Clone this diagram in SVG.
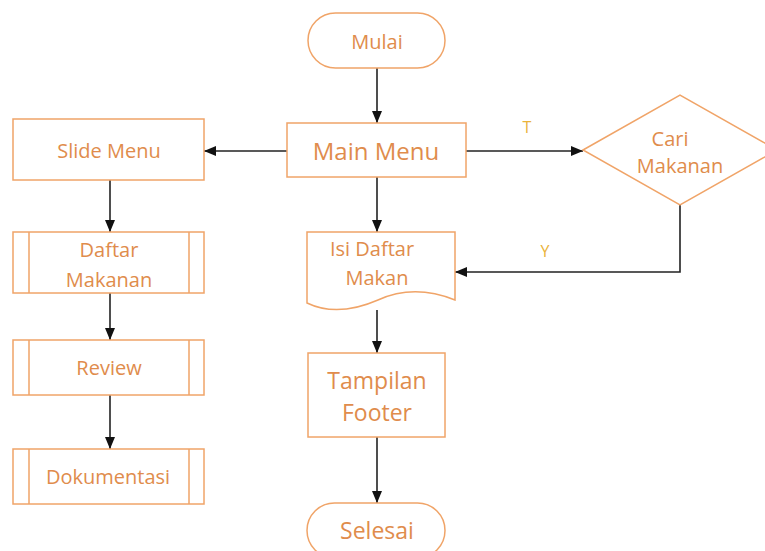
<svg xmlns="http://www.w3.org/2000/svg" width="765" height="551" viewBox="0 0 765 551">
<defs>
<marker id="ah" markerWidth="12" markerHeight="10" refX="12" refY="5" orient="auto" markerUnits="userSpaceOnUse">
<path d="M0,0 L12,5 L0,10 Z" fill="#111"/>
</marker>
<style>
.shape{fill:#fff;stroke:#f0a468;stroke-width:1.5}
.in{fill:none;stroke:#f0a468;stroke-width:1.5}
.t{font-family:"Open Sans","Liberation Sans",sans-serif;fill:#e08c4c;text-anchor:middle;dominant-baseline:central}
.lbl{font-family:"Open Sans","Liberation Sans",sans-serif;fill:#eab33a;text-anchor:middle;dominant-baseline:central;font-size:16px}
.c{fill:none;stroke:#222;stroke-width:1.6;marker-end:url(#ah)}
</style>
</defs>
<rect width="765" height="551" fill="#fff"/>
<g id="connectors">
<path class="c" d="M377,68 V123"/>
<path class="c" d="M287,151 H204"/>
<path class="c" d="M466,151 H583"/>
<path class="c" d="M377,177 V232"/>
<path class="c" d="M110,180 V232"/>
<path class="c" d="M110,293 V340"/>
<path class="c" d="M110,395 V449"/>
<path class="c" d="M680,205 V272 H455"/>
<path class="c" d="M377,310 V353"/>
<path class="c" d="M377,437 V503"/>
<text class="lbl" x="527" y="127">T</text>
<text class="lbl" x="545" y="251">Y</text>
</g>
<g id="mulai">
<rect class="shape" x="308" y="13" width="137" height="55" rx="27.5"/>
<text class="t" x="377" y="41" font-size="20">Mulai</text>
</g>
<g id="main-menu">
<rect class="shape" x="287" y="123" width="179" height="54"/>
<text class="t" x="376" y="150" font-size="24">Main Menu</text>
</g>
<g id="slide-menu">
<rect class="shape" x="13" y="119" width="191" height="61"/>
<text class="t" x="109" y="150" font-size="20">Slide Menu</text>
</g>
<g id="daftar-makanan">
<rect class="shape" x="13" y="232" width="191" height="61"/>
<path class="in" d="M29,232 V293 M189,232 V293"/>
<text class="t" x="109" y="249" font-size="20">Daftar</text>
<text class="t" x="109" y="279" font-size="20">Makanan</text>
</g>
<g id="review">
<rect class="shape" x="13" y="340" width="191" height="55"/>
<path class="in" d="M29,340 V395 M189,340 V395"/>
<text class="t" x="109" y="367" font-size="20">Review</text>
</g>
<g id="dokumentasi">
<rect class="shape" x="13" y="449" width="191" height="55"/>
<path class="in" d="M29,449 V504 M189,449 V504"/>
<text class="t" x="108" y="476" font-size="20">Dokumentasi</text>
</g>
<g id="isi-daftar-makan">
<path class="shape" d="M307,232 H455 V300 C425,288 400,290 378,300 C355,310 330,314 307,303 Z"/>
<text class="t" x="372" y="248" font-size="20">Isi Daftar</text>
<text class="t" x="377" y="277" font-size="20">Makan</text>
</g>
<g id="tampilan-footer">
<rect class="shape" x="308" y="353" width="137" height="84"/>
<text class="t" x="377" y="380" font-size="23">Tampilan</text>
<text class="t" x="377" y="412" font-size="23">Footer</text>
</g>
<g id="selesai">
<rect class="shape" x="307" y="503" width="138" height="55" rx="27.5"/>
<text class="t" x="377" y="530" font-size="23">Selesai</text>
</g>
<g id="cari-makanan">
<path class="shape" d="M583,150 L680,95 L777,150 L680,205 Z"/>
<text class="t" x="670" y="138" font-size="20">Cari</text>
<text class="t" x="680" y="165" font-size="20">Makanan</text>
</g>
</svg>
